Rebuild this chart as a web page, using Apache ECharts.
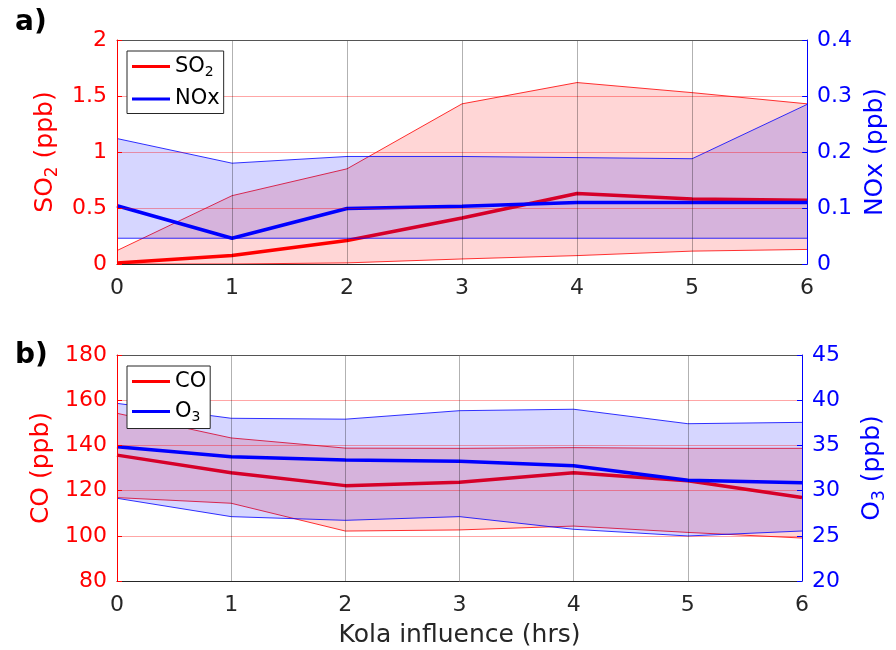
<!DOCTYPE html>
<html>
<head>
<meta charset="utf-8">
<script src="https://cdn.jsdelivr.net/npm/echarts@6/dist/echarts.min.js"></script>
<style>
  html, body { margin: 0; padding: 0; background: #fff; }
  #main { width: 896px; height: 650px; }
</style>
</head>
<body>
<div id="main"></div>
<script>
// hours of Kola influence
var hours = ['0', '1', '2', '3', '4', '5', '6'];

// panel a) SO2 (ppb, left) and NOx (ppb, right)
var so2Mean = [0.01, 0.075, 0.21, 0.41, 0.63, 0.58, 0.57];
var so2Low  = [0.0, 0.0, 0.01, 0.045, 0.075, 0.115, 0.13];
var so2High = [0.12, 0.61, 0.85, 1.43, 1.62, 1.53, 1.43];
var noxMean = [0.104, 0.046, 0.099, 0.103, 0.11, 0.11, 0.11];
var noxLow  = [0.046, 0.046, 0.046, 0.046, 0.046, 0.046, 0.046];
var noxHigh = [0.224, 0.18, 0.192, 0.192, 0.19, 0.188, 0.285];

// panel b) CO (ppb, left) and O3 (ppb, right)
var coMean = [135.7, 127.9, 122.2, 123.7, 127.9, 124.4, 116.9];
var coLow  = [116.9, 114.4, 102.1, 102.6, 104.3, 101.5, 99.0];
var coHigh = [154.2, 143.3, 138.8, 138.7, 139.0, 138.7, 138.7];
var o3Mean = [34.86, 33.75, 33.39, 33.24, 32.76, 31.14, 30.88];
var o3Low  = [29.15, 27.12, 26.71, 27.12, 25.72, 24.98, 25.53];
var o3High = [39.65, 38.0, 37.9, 38.84, 39.0, 37.4, 37.55];

var FONT = 'DejaVu Sans';
var RED = '#ff0000';
var BLUE = '#0000ff';
var TICK = 22;   // tick label size
var LABEL = 25;  // axis name size

function diff(hi, lo) {
  return hi.map(function (v, i) { return +(v - lo[i]).toFixed(4); });
}

// band = lower line + stacked (upper-lower) area, then the thick mean line
// z: blue bands sit above the red ones so the red mean line shows through tinted
function band(name, color, fill, xi, yi, mean, lo, hi, z) {
  var st = name + '_band';
  return [
    { name: name + ' low', type: 'line', xAxisIndex: xi, yAxisIndex: yi, stack: st, z: z,
      data: lo, symbol: 'none', silent: true,
      lineStyle: { color: color, width: 1, opacity: 0.8 } },
    { name: name + ' range', type: 'line', xAxisIndex: xi, yAxisIndex: yi, stack: st, z: z,
      data: diff(hi, lo), symbol: 'none', silent: true,
      lineStyle: { color: color, width: 1, opacity: 0.8 },
      areaStyle: { color: fill, opacity: 1 } },
    { name: name, type: 'line', xAxisIndex: xi, yAxisIndex: yi, z: z,
      data: mean, symbol: 'none', silent: true,
      itemStyle: { color: color },
      lineStyle: { color: color, width: 3.5 } }
  ];
}

function xAxis(gi) {
  return {
    type: 'category', gridIndex: gi, data: hours, boundaryGap: false, position: 'bottom', z: 6,
    axisLine: { onZero: false, lineStyle: { color: '#262626', width: 1 } },
    axisTick: { show: false },
    axisLabel: { color: '#262626', fontFamily: FONT, fontSize: TICK, margin: 13 },
    splitLine: { show: true, lineStyle: { color: 'rgba(0,0,0,0.3)', width: 1 } },
    name: gi === 1 ? 'Kola influence (hrs)' : '',
    nameLocation: 'middle', nameGap: 42,
    nameTextStyle: { color: '#262626', fontFamily: FONT, fontSize: LABEL }
  };
}

// plain frame line along the top of each panel
function topAxis(gi) {
  return {
    type: 'category', gridIndex: gi, data: hours, boundaryGap: false, position: 'top', z: 6,
    axisLine: { onZero: false, lineStyle: { color: '#555', width: 1 } },
    axisTick: { show: false }, axisLabel: { show: false }, splitLine: { show: false }
  };
}

function yAxis(gi, side, color, min, max, interval, name, rich) {
  return {
    type: 'value', gridIndex: gi, position: side, min: min, max: max, interval: interval, z: 6,
    axisLine: { show: true, onZero: false, lineStyle: { color: color, width: 1 } },
    axisTick: { show: true, inside: true, length: 5, lineStyle: { color: color } },
    axisLabel: { color: color, fontFamily: FONT, fontSize: TICK, margin: 10 },
    splitLine: { show: side === 'left', lineStyle: { color: 'rgba(255,0,0,0.35)', width: 1 } },
    name: name, nameLocation: 'middle', nameGap: side === 'left' ? 56 : 55,
    nameRotate: 90,
    nameTextStyle: { color: color, fontFamily: FONT, fontSize: LABEL, rich: rich }
  };
}

function nameRich(color) {
  return {
    a: { color: color, fontFamily: FONT, fontSize: LABEL },
    s: { color: color, fontFamily: FONT, fontSize: 17, padding: [14, 0, 0, 0] }
  };
}

var legendRich = {
  a: { color: '#000', fontFamily: FONT, fontSize: 21 },
  s: { color: '#000', fontFamily: FONT, fontSize: 14, padding: [12, 0, 0, 0] }
};
function legendFmt(name) {
  if (name === 'SO2') return '{a|SO}{s|2}';
  if (name === 'O3') return '{a|O}{s|3}';
  return '{a|' + name + '}';
}
function legend(top, names) {
  return {
    left: 127, top: top, orient: 'vertical', z: 10,
    data: names,
    icon: 'rect', itemWidth: 38, itemHeight: 3, itemGap: 9,
    padding: [5, 4, 4, 5],
    backgroundColor: '#fff', borderColor: '#262626', borderWidth: 1,
    formatter: legendFmt,
    textStyle: { fontFamily: FONT, fontSize: 21, color: '#000', rich: legendRich }
  };
}

var chart = echarts.init(document.getElementById('main'));

var series = []
  .concat(band('SO2', RED, 'rgba(255,0,0,0.16)', 0, 0, so2Mean, so2Low, so2High, 2))
  .concat(band('NOx', BLUE, 'rgba(0,0,255,0.16)', 0, 1, noxMean, noxLow, noxHigh, 3))
  .concat(band('CO', RED, 'rgba(255,0,0,0.16)', 1, 2, coMean, coLow, coHigh, 2))
  .concat(band('O3', BLUE, 'rgba(0,0,255,0.16)', 1, 3, o3Mean, o3Low, o3High, 3));

var option = {
  animation: false,
  backgroundColor: '#fff',
  title: [
    { text: 'a)', left: 10, top: 4, textStyle: { fontFamily: FONT, fontSize: 28, fontWeight: 'bold', color: '#000' } },
    { text: 'b)', left: 10, top: 337, textStyle: { fontFamily: FONT, fontSize: 28, fontWeight: 'bold', color: '#000' } }
  ],
  grid: [
    { left: 117, right: 79, top: 40, height: 224 },
    { left: 117, right: 79, top: 355, height: 226 }
  ],
  legend: [legend(51, ['SO2', 'NOx']), legend(366, ['CO', 'O3'])],
  xAxis: [xAxis(0), xAxis(1), topAxis(0), topAxis(1)],
  yAxis: [
    yAxis(0, 'left', RED, 0, 2, 0.5, '{a|SO}{s|2}{a| (ppb)}', nameRich(RED)),
    yAxis(0, 'right', BLUE, 0, 0.4, 0.1, 'NOx (ppb)', nameRich(BLUE)),
    yAxis(1, 'left', RED, 80, 180, 20, 'CO (ppb)', nameRich(RED)),
    yAxis(1, 'right', BLUE, 20, 45, 5, '{a|O}{s|3}{a| (ppb)}', nameRich(BLUE))
  ],
  series: series
};

chart.setOption(option);
</script>
</body>
</html>
